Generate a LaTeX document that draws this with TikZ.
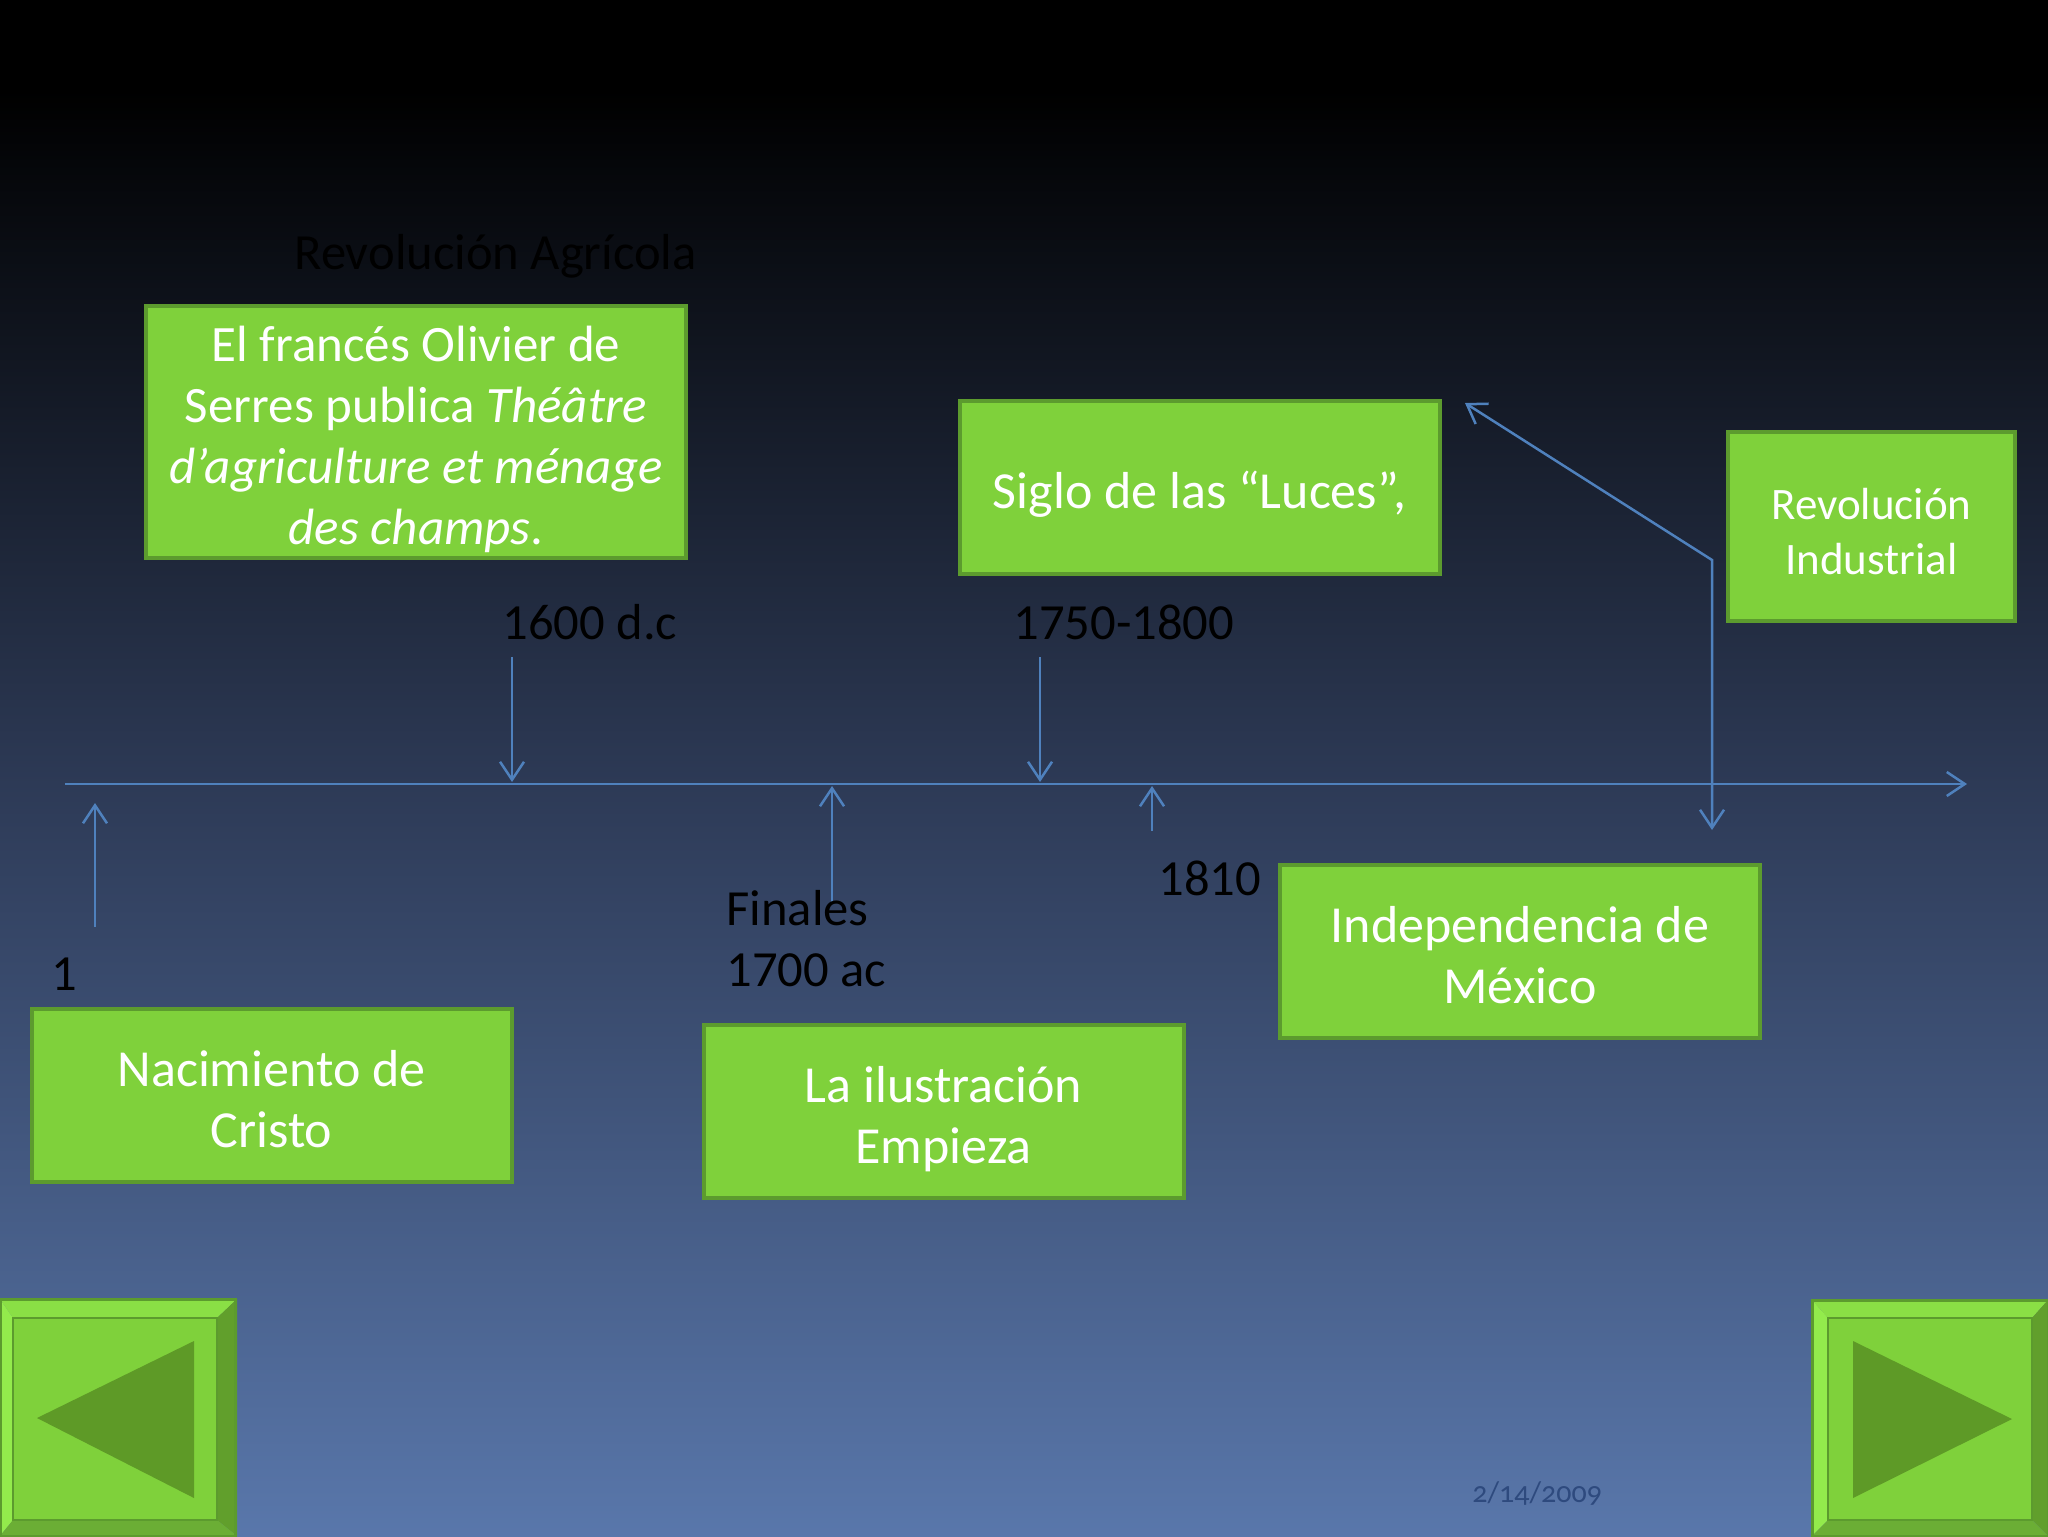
\documentclass[tikz,border=0pt]{standalone}
\usepackage{fontspec}
\setmainfont{Carlito}
\usetikzlibrary{positioning}
\usetikzlibrary{arrows.meta}

\definecolor{boxgreen}{HTML}{7FD13B}
\definecolor{boxedge}{HTML}{5C9B2E}
\definecolor{lineblue}{HTML}{4F81BD}
\definecolor{bgmid}{HTML}{2D3A56}
\definecolor{bgbot}{HTML}{5977AB}
\definecolor{datecol}{HTML}{2E4A7E}
\definecolor{btnlight}{HTML}{93EB4C}
\definecolor{btntop}{HTML}{8ADF45}
\definecolor{btndark}{HTML}{619F2C}
\definecolor{btnbot}{HTML}{6BAE35}
\definecolor{btntri}{HTML}{5E9A27}

% texto centrado en los cuadros (un poco mas abajo)
\newcommand{\evtext}[1]{\begin{tabular}{@{}c@{}}\noalign{\vskip4.5pt}#1\\\noalign{\vskip-4.5pt}\end{tabular}}

\begin{document}
\begin{tikzpicture}[x=0.5pt, y=-0.5pt,
    event/.style={draw=boxedge, line width=2pt, fill=boxgreen, text=white,
      minimum width=240pt, minimum height=86.5pt, inner sep=0pt,
      font=\fontsize{26}{30.5}\selectfont},
    yearlabel/.style={inner sep=0pt, text=black, font=\fontsize{25.3}{30.5}\selectfont},
    >={Straight Barb[length=9pt,width=12pt]}]
  \useasboundingbox (0,0) rectangle (2048,1536);
  % fondo
  \fill[black] (0,0) rectangle (2048,92);
  \shade[top color=black, bottom color=bgmid] (0,90) rectangle (2048,784);
  \shade[top color=bgmid, bottom color=bgbot] (0,783) rectangle (2048,1536);

  % linea del tiempo
  \coordinate (lineL) at (65,784);
  \coordinate (lineR) at (1967,784);
  \coordinate (a1s) at (95,927);     \coordinate (a1e) at (95,803);
  \coordinate (a1600s) at (512,657); \coordinate (a1600e) at (512,782);
  \coordinate (a1700s) at (832,903); \coordinate (a1700e) at (832,786);
  \coordinate (a1750s) at (1040,657);\coordinate (a1750e) at (1040,782);
  \coordinate (a1810s) at (1152,831);\coordinate (a1810e) at (1152,786);
  \coordinate (indA) at (1465,403);
  \coordinate (indB) at (1712,560);
  \coordinate (indC) at (1712,830);
  \begin{scope}[lineblue, line width=1.25pt]
    \draw[->] (lineL) -- (lineR);
    \draw[->] (a1s) -- (a1e);
    \draw[->] (a1600s) -- (a1600e);
    \draw[->] (a1700s) -- (a1700e);
    \draw[->] (a1750s) -- (a1750e);
    \draw[->] (a1810s) -- (a1810e);
    \draw[<->] (indA) -- (indB) -- (indC);
  \end{scope}

  % cuadros
  \node[event, minimum width=270pt, minimum height=126pt,
    font=\fontsize{25.5}{30.5}\selectfont] (agri) at (416,432)
    {\evtext{El francés Olivier de\\Serres publica \textit{Théâtre}\\\textit{d’agriculture et ménage}\\\textit{des champs}.}};
  \node[event] (siglo) at (1200,487.5) {\evtext{Siglo de las “Luces”,}};
  \node[event, minimum width=143.5pt, minimum height=94.5pt,
    font=\fontsize{22.5}{27.5}\selectfont] (revind) at (1871.5,526.5) {\evtext{Revolución\\Industrial}};
  \node[event] (nac) at (271.5,1095.5) {\evtext{Nacimiento de\\Cristo}};
  \node[event] (ilus) at (943.5,1111.5) {\evtext{La ilustración\\Empieza}};
  \node[event] (indep) at (1520,951.5) {\evtext{Independencia de\\México}};

  % fechas
  \node[yearlabel, anchor=base west] (agrtitle) at (294,269) {Revolución Agrícola};
  \node[yearlabel, anchor=base west] (l1600) at (502,639) {1600 d.c};
  \node[yearlabel, anchor=base west] (l1750) at (1013,639) {1750-1800};
  \node[yearlabel, anchor=base west] (l1) at (51,990) {1};
  \node[yearlabel, anchor=west, align=left] (l1700) at (726,939) {Finales\\1700 ac};
  \node[yearlabel, anchor=base west] (l1810) at (1158,895) {1810};
  \node[anchor=base west, inner sep=0pt, text=datecol,
    font=\fontsize{15}{18}\selectfont\addfontfeatures{Numbers=OldStyle}] (fecha) at (1472,1502) {2/14/2009};

  % botones
  \fill[btntop] (0,1299) -- (237,1299) -- (217,1318) -- (13,1318) -- cycle;
  \fill[btnlight] (0,1299) -- (13,1318) -- (13,1520) -- (0,1536) -- cycle;
  \fill[btndark] (237,1299) -- (237,1536) -- (217,1520) -- (217,1318) -- cycle;
  \fill[btnbot] (0,1536) -- (13,1520) -- (217,1520) -- (237,1536) -- cycle;
  \fill[boxgreen] (13,1318) rectangle (217,1520);
  \draw[boxedge, line width=1pt] (13,1318) rectangle (217,1520);
  \draw[boxedge, line width=1.5pt] (0,1299) rectangle (235,1536);
  \fill[btntri] (37,1418) -- (194,1341) -- (194,1498) -- cycle;

  \fill[btntop] (1812,1300) -- (2048,1300) -- (2032,1318) -- (1828,1318) -- cycle;
  \fill[btnlight] (1812,1300) -- (1828,1318) -- (1828,1520) -- (1812,1536) -- cycle;
  \fill[btndark] (2048,1300) -- (2048,1536) -- (2032,1520) -- (2032,1318) -- cycle;
  \fill[btnbot] (1812,1536) -- (1828,1520) -- (2032,1520) -- (2048,1536) -- cycle;
  \fill[boxgreen] (1828,1318) rectangle (2032,1520);
  \draw[boxedge, line width=1pt] (1828,1318) rectangle (2032,1520);
  \draw[boxedge, line width=1.5pt] (1812,1300) rectangle (2048,1536);
  \fill[btntri] (1853,1341) -- (1853,1498) -- (2012,1419) -- cycle;
\end{tikzpicture}
\end{document}
